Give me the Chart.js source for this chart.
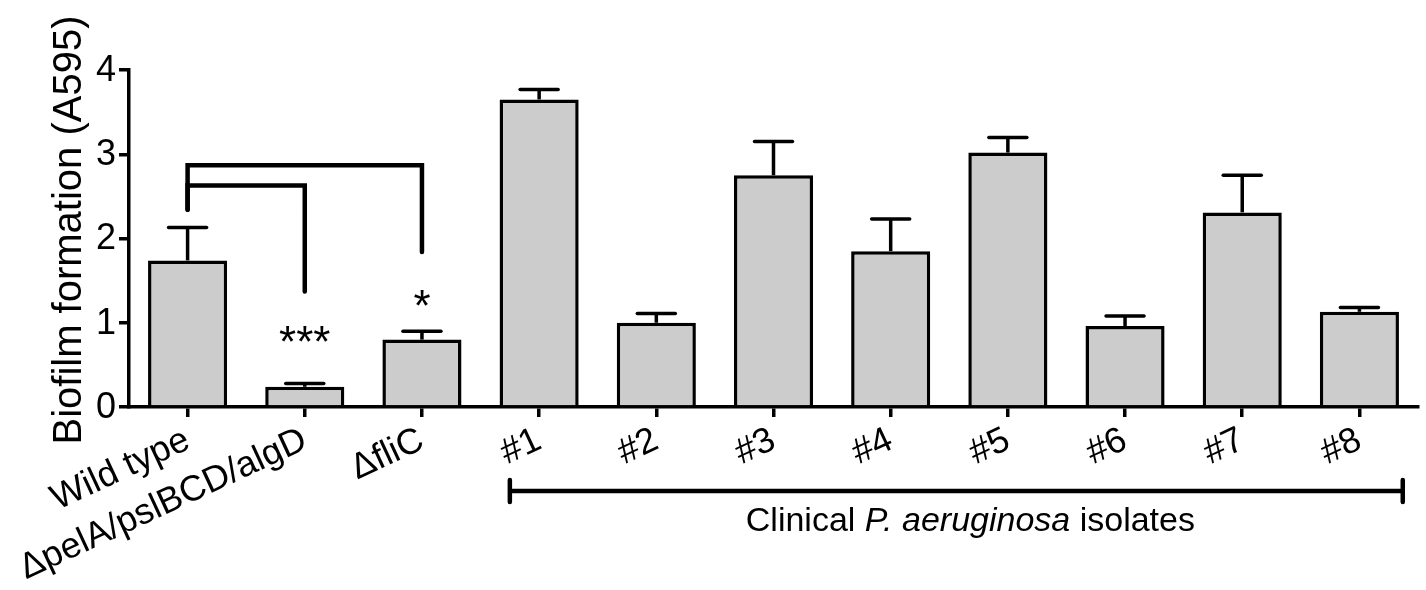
<!DOCTYPE html>
<html>
<head>
<meta charset="utf-8">
<script src="https://cdn.jsdelivr.net/npm/chart.js@4.4.0/dist/chart.umd.min.js"></script>
<style>
  html, body { margin: 0; padding: 0; background: #fff; }
</style>
</head>
<body>
<canvas id="biofilm" width="1426" height="590"></canvas>
<script>
// ---- data ----
const strains = ['Wild type', 'ΔpelA/pslBCD/algD', 'ΔfliC', '#1', '#2', '#3', '#4', '#5', '#6', '#7', '#8'];
const meanA595 = [1.74, 0.24, 0.80, 3.65, 1.00, 2.75, 1.85, 3.02, 0.96, 2.31, 1.13];
const semA595  = [0.39, 0.04, 0.10, 0.12, 0.11, 0.40, 0.38, 0.18, 0.12, 0.44, 0.05];
const yTicks = [0, 1, 2, 3, 4];

// significance brackets (category index, A595 levels)
const bracketFrom  = [0, 0];
const bracketTo    = [2, 1];
const bracketTop   = [2.87, 2.63];
const bracketLeft  = [2.34, 2.34];
const bracketRight = [1.84, 1.37];

const sigIndex = [1, 2];
const sigText  = ['***', '*'];
const sigLevel = [0.59, 1.02];

// clinical isolates group line, in category units
const groupFrom = 2.75;
const groupTo = 10.37;

const FONT = '"Liberation Sans", Arial, Helvetica, sans-serif';

const overlay = {
    id: 'overlay',
    afterDatasetsDraw(chart) {
        const { ctx, scales: { x, y }, chartArea } = chart;
        ctx.save();
        ctx.strokeStyle = '#000';
        ctx.fillStyle = '#000';

        // error bars (upper only)
        ctx.lineWidth = 3.5;
        meanA595.forEach((m, i) => {
            const px = x.getPixelForValue(i);
            const y0 = y.getPixelForValue(m);
            const y1 = y.getPixelForValue(m + semA595[i]);
            ctx.lineCap = 'butt';
            ctx.beginPath();
            ctx.moveTo(px, y0);
            ctx.lineTo(px, y1);
            ctx.stroke();
            ctx.lineCap = 'round';
            ctx.beginPath();
            ctx.moveTo(px - 19, y1);
            ctx.lineTo(px + 19, y1);
            ctx.stroke();
        });

        // brackets
        ctx.lineWidth = 4.5;
        ctx.lineCap = 'round';
        ctx.lineJoin = 'miter';
        for (let b = 0; b < bracketFrom.length; b++) {
            const x0 = x.getPixelForValue(bracketFrom[b]);
            const x1 = x.getPixelForValue(bracketTo[b]);
            ctx.beginPath();
            ctx.moveTo(x0, y.getPixelForValue(bracketLeft[b]));
            ctx.lineTo(x0, y.getPixelForValue(bracketTop[b]));
            ctx.lineTo(x1, y.getPixelForValue(bracketTop[b]));
            ctx.lineTo(x1, y.getPixelForValue(bracketRight[b]));
            ctx.stroke();
        }

        // stars
        ctx.font = '44px ' + FONT;
        ctx.textAlign = 'center';
        ctx.textBaseline = 'alphabetic';
        sigIndex.forEach((idx, k) => {
            ctx.fillText(sigText[k], x.getPixelForValue(idx), y.getPixelForValue(sigLevel[k]));
        });

        // clinical isolates line
        const gx0 = x.getPixelForValue(groupFrom);
        const gx1 = x.getPixelForValue(groupTo);
        const gy = chartArea.bottom + 84;
        ctx.lineWidth = 4.5;
        ctx.beginPath();
        ctx.moveTo(gx0, gy);
        ctx.lineTo(gx1, gy);
        ctx.moveTo(gx0, gy - 11);
        ctx.lineTo(gx0, gy + 11);
        ctx.moveTo(gx1, gy - 11);
        ctx.lineTo(gx1, gy + 11);
        ctx.stroke();

        const parts = [['Clinical ', ''], ['P. aeruginosa', 'italic '], [' isolates', '']];
        let total = 0;
        parts.forEach(p => { ctx.font = p[1] + '34px ' + FONT; total += ctx.measureText(p[0]).width; });
        let tx = x.getPixelForValue(6.68) - total / 2;
        const ty = chartArea.bottom + 124;
        ctx.textAlign = 'left';
        parts.forEach(p => {
            ctx.font = p[1] + '34px ' + FONT;
            ctx.fillText(p[0], tx, ty);
            tx += ctx.measureText(p[0]).width;
        });

        // y axis title
        ctx.font = '40px ' + FONT;
        ctx.textAlign = 'center';
        ctx.translate(chartArea.left - 48, 230);
        ctx.rotate(-Math.PI / 2);
        ctx.fillText('Biofilm formation (A595)', 0, 0);
        ctx.restore();
    }
};

const ctx = document.getElementById('biofilm').getContext('2d');
new Chart(ctx, {
    type: 'bar',
    data: {
        labels: strains,
        datasets: [{
            data: meanA595,
            backgroundColor: '#cccccc',
            borderColor: '#000',
            borderWidth: 3.5,
            borderSkipped: 'bottom',
            barPercentage: 0.675,
            categoryPercentage: 1
        }]
    },
    options: {
        responsive: false,
        animation: false,
        layout: { padding: { top: 70, right: 8, left: 0, bottom: 0 } },
        plugins: { legend: { display: false }, tooltip: { enabled: false } },
        scales: {
            x: {
                grid: { offset: false, drawOnChartArea: false, tickLength: 10, lineWidth: 3.5, color: '#000' },
                border: { color: '#000', width: 3.5 },
                ticks: {
                    color: '#000', font: { family: FONT, size: 36 },
                    minRotation: 25, maxRotation: 25, autoSkip: false, padding: 2
                },
                afterFit(scale) { scale.height = 183; }
            },
            y: {
                min: 0, max: 4,
                afterBuildTicks(scale) { scale.ticks = yTicks.map(v => ({ value: v })); },
                grid: { drawOnChartArea: false, tickLength: 10, lineWidth: 3.5, color: '#000' },
                border: { color: '#000', width: 3.5 },
                ticks: { color: '#000', font: { family: FONT, size: 36 }, padding: 3, labelOffset: 1 },
                afterFit(scale) { scale.width = 129; }
            }
        }
    },
    plugins: [overlay]
});
</script>
</body>
</html>
